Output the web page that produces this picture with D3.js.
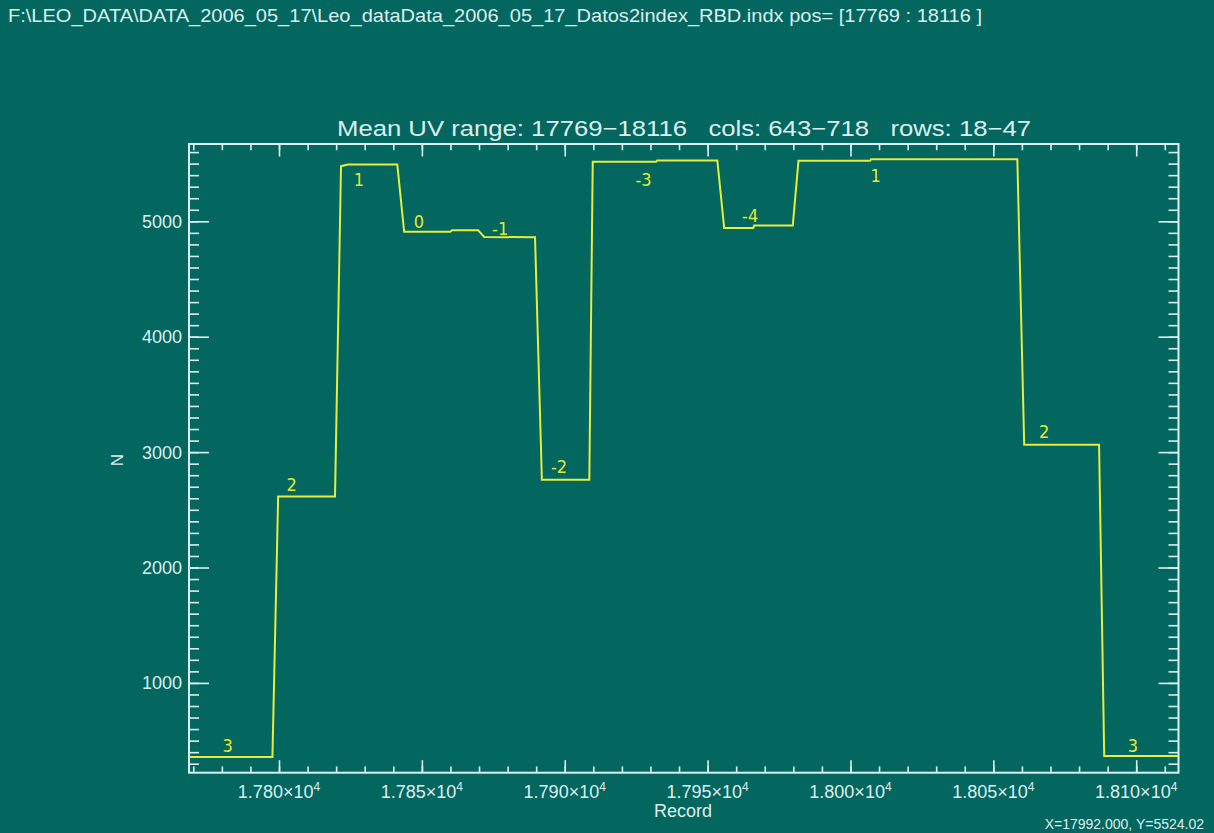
<!DOCTYPE html>
<html lang="en">
<head>
<meta charset="UTF-8" />
<title>Mean UV range</title>
<style>
  html, body { margin: 0; padding: 0; background: #03665f; }
  svg { display: block; }
  .txt { fill: #dcefef; font-family: "Liberation Sans", Arial, sans-serif; white-space: pre; }
  .seg { fill: #e2ea34; font-family: "Liberation Sans Narrow", "DejaVu Sans Condensed", "Liberation Sans", sans-serif; font-stretch: condensed; }
</style>
</head>
<body>
<svg width="1214" height="833"></svg>
<script src="https://d3js.org/d3.v7.min.js"></script>
<script>
// step profile: record number vs mean N
var records = [17768.5, 17797.7, 17799.7, 17819.6, 17821.7, 17824.2, 17841.4, 17843.8, 17859.9, 17860.6,
               17869.7, 17871.8, 17889.6, 17892.0, 17908.6, 17909.8, 17932.0, 17932.3, 17953.4, 17955.8,
               17966.0, 17966.3, 17979.8, 17981.8, 18006.9, 18007.2, 18058.4, 18060.8, 18087.0, 18088.8, 18114.8];
var counts  = [357, 357, 2616, 2616, 5478, 5492, 5492, 4909, 4909, 4923,
               4923, 4864, 4862, 2761, 2761, 5516, 5516, 5527, 5527, 4943,
               4943, 4963, 4963, 5524, 5524, 5537, 5537, 3064, 3064, 367, 367];

// segment labels written on the curve
var segText = ["3", "2", "1", "0", "-1", "-2", "-3", "-4", "1", "2", "3"];
var segRec  = [17782, 17804.4, 17828, 17849, 17877.4, 17898, 17927.6, 17964.9, 18008.8, 18067.8, 18098.8];
var segN    = [402, 2665, 5302, 4946, 4885, 2821, 5310, 4998, 5337, 3125, 402];

// axis ticks
var xMajor = [17800, 17850, 17900, 17950, 18000, 18050, 18100];
var xMantissa = ["1.780", "1.785", "1.790", "1.795", "1.800", "1.805", "1.810"];
var xMinor = d3.range(17770, 18115, 10);
var yMajor = [1000, 2000, 3000, 4000, 5000];
var yMinor = d3.range(300, 5670, 100);

var headerText = "F:\\LEO_DATA\\DATA_2006_05_17\\Leo_dataData_2006_05_17_Datos2index_RBD.indx pos= [17769 : 18116 ]";
var titleText = "Mean UV range: 17769\u221218116   cols: 643\u2212718   rows: 18\u221247";
var readout = "X=17992.000, Y=5524.02";

var svg = d3.select("svg");
var axisColor = "#dcefef";
var box = {left: 189, right: 1178.5, top: 144, bottom: 772.7};

var x = d3.scaleLinear().domain([17768.5, 18114.8]).range([box.left, box.right]);
var y = d3.scaleLinear().domain([222, 5670]).range([box.bottom, box.top]);

svg.append("rect").attr("width", 1214).attr("height", 833).attr("fill", "#03665f");

function styleAxis(g) {
  g.select(".domain").remove();
  g.selectAll(".tick line").attr("stroke", axisColor).attr("stroke-width", 1.6);
  g.selectAll(".tick text").remove();
}

// bottom / top ticks point inward
svg.append("g").attr("transform", "translate(0," + box.bottom + ")")
  .call(d3.axisBottom(x).tickValues(xMajor).tickSize(-12.5)).call(styleAxis);
svg.append("g").attr("transform", "translate(0," + box.bottom + ")")
  .call(d3.axisBottom(x).tickValues(xMinor).tickSize(-6.3)).call(styleAxis);
svg.append("g").attr("transform", "translate(0," + box.top + ")")
  .call(d3.axisTop(x).tickValues(xMajor).tickSize(-12.5)).call(styleAxis);
svg.append("g").attr("transform", "translate(0," + box.top + ")")
  .call(d3.axisTop(x).tickValues(xMinor).tickSize(-6.3)).call(styleAxis);

// left / right
svg.append("g").attr("transform", "translate(" + box.left + ",0)")
  .call(d3.axisLeft(y).tickValues(yMajor).tickSize(-20)).call(styleAxis);
svg.append("g").attr("transform", "translate(" + box.left + ",0)")
  .call(d3.axisLeft(y).tickValues(yMinor).tickSize(-10)).call(styleAxis);
svg.append("g").attr("transform", "translate(" + box.right + ",0)")
  .call(d3.axisRight(y).tickValues(yMajor).tickSize(-20)).call(styleAxis);
svg.append("g").attr("transform", "translate(" + box.right + ",0)")
  .call(d3.axisRight(y).tickValues(yMinor).tickSize(-10)).call(styleAxis);

// frame
svg.append("rect")
  .attr("x", box.left).attr("y", box.top)
  .attr("width", box.right - box.left).attr("height", box.bottom - box.top)
  .attr("fill", "none").attr("stroke", axisColor).attr("stroke-width", 2);

// x tick labels  m.mmm×10^4
var xl = svg.append("g").selectAll("text").data(xMajor).enter().append("text")
  .attr("class", "txt")
  .attr("x", function(d) { return x(d); })
  .attr("y", 798)
  .attr("text-anchor", "middle")
  .style("font-size", "18px");
xl.append("tspan").text(function(d, i) { return xMantissa[i] + "\u00d710"; });
xl.append("tspan").attr("dy", -7).style("font-size", "12px").text("4");

// y tick labels
svg.append("g").selectAll("text").data(yMajor).enter().append("text")
  .attr("class", "txt")
  .attr("x", 182)
  .attr("y", function(d) { return y(d) + 6.5; })
  .attr("text-anchor", "end")
  .style("font-size", "18px")
  .text(function(d) { return d; });

// axis titles
svg.append("text").attr("class", "txt")
  .attr("x", 683).attr("y", 817).attr("text-anchor", "middle")
  .style("font-size", "18px").text("Record");
svg.append("text").attr("class", "txt")
  .attr("transform", "translate(123,460) rotate(-90)")
  .attr("text-anchor", "middle")
  .style("font-size", "17px").text("N");

// header, title, cursor readout
svg.append("text").attr("class", "txt")
  .attr("x", 8).attr("y", 22)
  .attr("textLength", 974).attr("lengthAdjust", "spacingAndGlyphs")
  .style("font-size", "19px").text(headerText);
svg.append("text").attr("class", "txt")
  .attr("x", 337).attr("y", 136)
  .attr("textLength", 694).attr("lengthAdjust", "spacingAndGlyphs")
  .style("font-size", "22px").text(titleText);
svg.append("text").attr("class", "txt")
  .attr("x", 1204).attr("y", 829).attr("text-anchor", "end")
  .style("font-size", "14px").text(readout);

// profile line
svg.append("clipPath").attr("id", "plotclip").append("rect")
  .attr("x", box.left).attr("y", box.top)
  .attr("width", box.right - box.left).attr("height", box.bottom - box.top);

var line = d3.line()
  .x(function(d) { return x(d[0]); })
  .y(function(d) { return y(d[1]); });

svg.append("path")
  .datum(d3.zip(records, counts))
  .attr("clip-path", "url(#plotclip)")
  .attr("fill", "none")
  .attr("stroke", "#e6ee3c")
  .attr("stroke-width", 2)
  .attr("d", line);

svg.append("g").selectAll("text").data(segText).enter().append("text")
  .attr("class", "seg")
  .attr("x", function(d, i) { return x(segRec[i]); })
  .attr("y", function(d, i) { return y(segN[i]); })
  .attr("text-anchor", "middle")
  .style("font-size", "18px")
  .text(function(d) { return d; });
</script>
</body>
</html>
